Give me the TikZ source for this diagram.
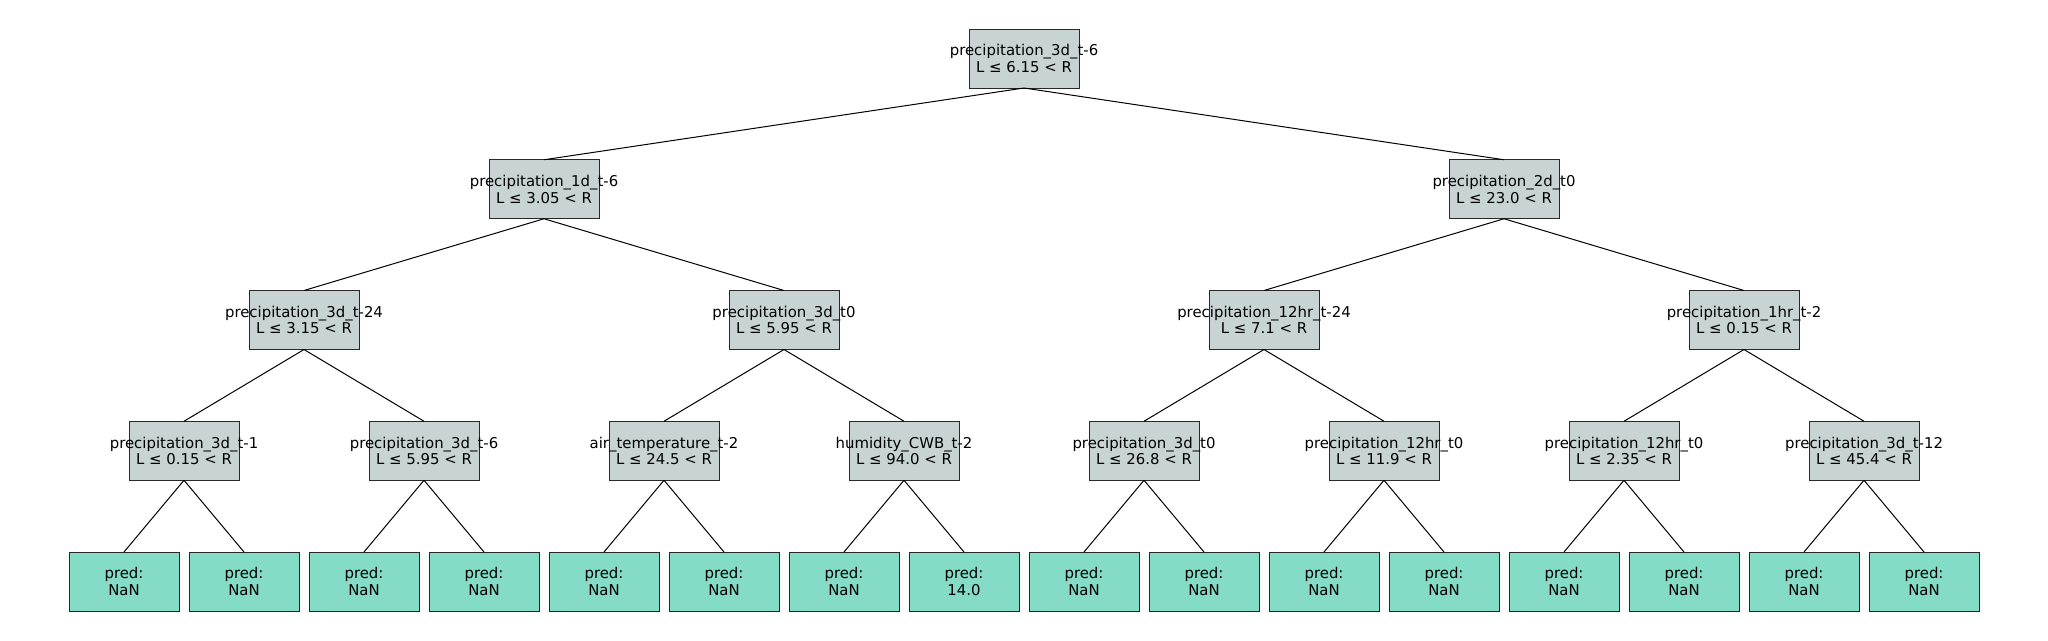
\documentclass[tikz,border=0pt]{standalone}
\usepackage{fontspec}
\setmainfont{DejaVu Sans}
\definecolor{splitfill}{RGB}{200,212,212}
\definecolor{leaffill}{RGB}{132,220,198}
\definecolor{boxline}{RGB}{40,40,40}
\tikzset{
  box/.style={draw=boxline, line width=0.9pt, minimum width=110pt, minimum height=59pt, inner sep=0pt, outer sep=0pt},
  split/.style={box, fill=splitfill, label={[txt]center:{#1}}},
  leaf/.style={box, fill=leaffill, label={[txt]center:{#1}}},
  txt/.style={align=center, inner sep=0pt, font=\fontsize{14.9}{16.6}\selectfont},
  edge/.style={draw=black, line width=1pt}
}
\begin{document}
\begin{tikzpicture}[x=1pt, y=-1pt]
\useasboundingbox (0,0) rectangle (2048,640);
% root
\node[split={precipitation\_3d\_t-6\\L ≤ 6.15 < R}] (r) at (1024,58.5) {};
% level 1
\node[split={precipitation\_1d\_t-6\\L ≤ 3.05 < R}] (a) at (544,189.25) {};
\node[split={precipitation\_2d\_t0\\L ≤ 23.0 < R}] (b) at (1504,189.25) {};
% level 2
\node[split={precipitation\_3d\_t-24\\L ≤ 3.15 < R}] (aa) at (304,320) {};
\node[split={precipitation\_3d\_t0\\L ≤ 5.95 < R}] (ab) at (784,320) {};
\node[split={precipitation\_12hr\_t-24\\L ≤ 7.1 < R}] (ba) at (1264,320) {};
\node[split={precipitation\_1hr\_t-2\\L ≤ 0.15 < R}] (bb) at (1744,320) {};
% level 3
\node[split={precipitation\_3d\_t-1\\L ≤ 0.15 < R}] (aaa) at (184,450.75) {};
\node[split={precipitation\_3d\_t-6\\L ≤ 5.95 < R}] (aab) at (424,450.75) {};
\node[split={air\_temperature\_t-2\\L ≤ 24.5 < R}] (aba) at (664,450.75) {};
\node[split={humidity\_CWB\_t-2\\L ≤ 94.0 < R}] (abb) at (904,450.75) {};
\node[split={precipitation\_3d\_t0\\L ≤ 26.8 < R}] (baa) at (1144,450.75) {};
\node[split={precipitation\_12hr\_t0\\L ≤ 11.9 < R}] (bab) at (1384,450.75) {};
\node[split={precipitation\_12hr\_t0\\L ≤ 2.35 < R}] (bba) at (1624,450.75) {};
\node[split={precipitation\_3d\_t-12\\L ≤ 45.4 < R}] (bbb) at (1864,450.75) {};
% leaves
\node[leaf={pred:\\NaN}] (l1) at (124,581.5) {};
\node[leaf={pred:\\NaN}] (l2) at (244,581.5) {};
\node[leaf={pred:\\NaN}] (l3) at (364,581.5) {};
\node[leaf={pred:\\NaN}] (l4) at (484,581.5) {};
\node[leaf={pred:\\NaN}] (l5) at (604,581.5) {};
\node[leaf={pred:\\NaN}] (l6) at (724,581.5) {};
\node[leaf={pred:\\NaN}] (l7) at (844,581.5) {};
\node[leaf={pred:\\14.0}] (l8) at (964,581.5) {};
\node[leaf={pred:\\NaN}] (l9) at (1084,581.5) {};
\node[leaf={pred:\\NaN}] (l10) at (1204,581.5) {};
\node[leaf={pred:\\NaN}] (l11) at (1324,581.5) {};
\node[leaf={pred:\\NaN}] (l12) at (1444,581.5) {};
\node[leaf={pred:\\NaN}] (l13) at (1564,581.5) {};
\node[leaf={pred:\\NaN}] (l14) at (1684,581.5) {};
\node[leaf={pred:\\NaN}] (l15) at (1804,581.5) {};
\node[leaf={pred:\\NaN}] (l16) at (1924,581.5) {};
% edges
\foreach \p/\c in {r/a, r/b, a/aa, a/ab, b/ba, b/bb,
  aa/aaa, aa/aab, ab/aba, ab/abb, ba/baa, ba/bab, bb/bba, bb/bbb,
  aaa/l1, aaa/l2, aab/l3, aab/l4, aba/l5, aba/l6, abb/l7, abb/l8,
  baa/l9, baa/l10, bab/l11, bab/l12, bba/l13, bba/l14, bbb/l15, bbb/l16}
  \draw[edge] (\p.south) -- (\c.north);
\end{tikzpicture}
\end{document}
